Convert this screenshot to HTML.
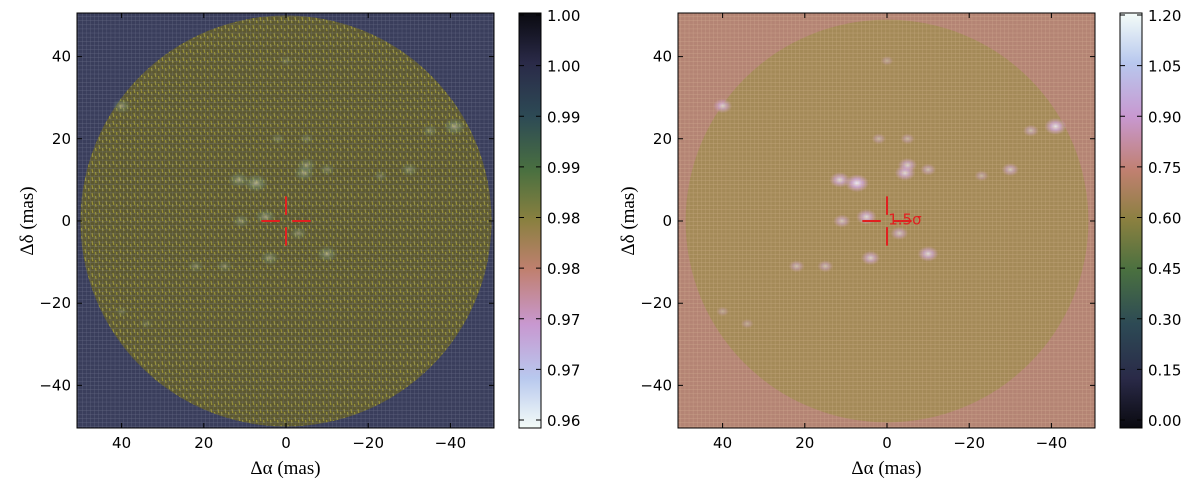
<!DOCTYPE html>
<html><head><meta charset="utf-8"><style>
body{margin:0;background:#fff;}
svg text{font-family:"DejaVu Sans","Liberation Sans",sans-serif;font-size:15px;fill:#000;}
.ser{font-family:"Liberation Serif","DejaVu Serif",serif;font-size:19px;}
</style></head><body>
<svg id="fig" width="1200" height="487" viewBox="0 0 1200 487" xmlns="http://www.w3.org/2000/svg">
<defs>
<pattern id="gridL" width="4.1" height="4.1" patternUnits="userSpaceOnUse"><path d="M0 0H4.1M0 0V4.1" stroke="#9aa0b8" stroke-width="0.6" opacity="0.45"/></pattern>
<pattern id="gridR" width="4.1" height="4.1" patternUnits="userSpaceOnUse"><path d="M0 0H4.1M0 0V4.1" stroke="#e8c8a8" stroke-width="0.6" opacity="0.5"/></pattern>
<pattern id="streak" width="7" height="8" patternUnits="userSpaceOnUse"><path d="M1 1L1.8 5M4.5 4L5 7" stroke="#c8c03a" stroke-width="1.2" opacity="0.55"/></pattern>
<linearGradient id="cbL" x1="0" y1="0" x2="0" y2="1">
<stop offset="0" stop-color="#0a0a10"/><stop offset="0.12" stop-color="#2a2a48"/><stop offset="0.25" stop-color="#2d4a55"/><stop offset="0.38" stop-color="#4a7040"/><stop offset="0.5" stop-color="#8a8040"/><stop offset="0.62" stop-color="#c08070"/><stop offset="0.75" stop-color="#c898d0"/><stop offset="0.88" stop-color="#b8c8ee"/><stop offset="1" stop-color="#f4fcf8"/></linearGradient>
<linearGradient id="cbR" x1="0" y1="1" x2="0" y2="0">
<stop offset="0" stop-color="#0a0a10"/><stop offset="0.12" stop-color="#2a2a48"/><stop offset="0.25" stop-color="#2d4a55"/><stop offset="0.38" stop-color="#4a7040"/><stop offset="0.5" stop-color="#8a8040"/><stop offset="0.62" stop-color="#c08070"/><stop offset="0.75" stop-color="#c898d0"/><stop offset="0.88" stop-color="#b8c8ee"/><stop offset="1" stop-color="#f4fcf8"/></linearGradient>
<radialGradient id="blobL"><stop offset="0" stop-color="#e8e0c0"/><stop offset="0.5" stop-color="#7a9a78" stop-opacity="0.7"/><stop offset="1" stop-color="#7a9a78" stop-opacity="0"/></radialGradient>
<radialGradient id="blobR"><stop offset="0" stop-color="#f4f8ff"/><stop offset="0.45" stop-color="#d0a8e0" stop-opacity="0.9"/><stop offset="1" stop-color="#d0a0d0" stop-opacity="0"/></radialGradient>
<clipPath id="clipL"><rect x="77" y="13" width="417" height="415"/></clipPath>
<clipPath id="clipR"><rect x="678" y="13" width="417" height="415"/></clipPath>
</defs>
<g id="panelL"></g>
<g id="panelR"></g>
</svg>
<script>
const NS='http://www.w3.org/2000/svg';
const xTicks=[40,20,0,-20,-40];
const yTicks=[40,20,0,-20,-40];
const cbLabelsL=['1.00','1.00','0.99','0.99','0.98','0.98','0.97','0.97','0.96'];
const cbLabelsR=['1.20','1.05','0.90','0.75','0.60','0.45','0.30','0.15','0.00'];
// spots: x (mas), y (mas), strength 0..1
const spotX=[7.3,11.5,-4.4,-5,5,11,4,-10,22,-10,-30,-23,-41,-35,40,2,-5,0,40,34,15,-3];
const spotY=[9.2,10,11.7,13.6,1,0,-9,-8,-11,12.5,12.5,11,23,22,28,20,20,39,-22,-25,-11,-3];
const spotV=[1,0.8,0.8,0.7,0.8,0.6,0.7,0.8,0.5,0.5,0.6,0.4,0.9,0.5,0.7,0.4,0.4,0.3,0.3,0.3,0.5,0.6];
const discRadiusL=50, discRadiusR=49;
function mk(parent,tag,attrs,name){const e=document.createElementNS(NS,tag);for(const k in attrs)e.setAttribute(k,attrs[k]);


parent.appendChild(e);return e;}
function panel(gid,x0,cx0,clip,cbx,opts){
  const g=document.getElementById(gid);const y0=13,w=417,h=415,s=4.11,cy=221;
  const X=v=>cx0-v*s, Y=v=>cy-v*s;
  const body=mk(g,'g',{'clip-path':'url(#'+clip+')'},'plot-area');
  mk(body,'rect',{x:x0,y:y0,width:w,height:h,fill:opts.bg},'background');
  mk(body,'circle',{cx:X(0),cy:Y(0),r:opts.r*s,fill:opts.disc},'disc');
  if(opts.streak)mk(body,'circle',{cx:X(0),cy:Y(0),r:opts.r*s,fill:'url(#streak)'},'disc-texture');
  for(let i=0;i<spotX.length;i++){
    mk(body,'ellipse',{cx:X(spotX[i]),cy:Y(spotY[i]),rx:4+8*spotV[i],ry:3+6*spotV[i],fill:opts.blob,opacity:opts.blobOp*spotV[i]+0.1},'peak');
  }
  mk(body,'rect',{x:x0,y:y0,width:w,height:h,fill:'url(#'+opts.grid+')'},'grid');
  const cc='#e02020';
  mk(body,'path',{d:`M${X(6)} ${Y(0)}H${X(1.5)}M${X(-1.5)} ${Y(0)}H${X(-6)}M${X(0)} ${Y(6)}V${Y(1.5)}M${X(0)} ${Y(-1.5)}V${Y(-6)}`,stroke:cc,'stroke-width':2,fill:'none'},'center-marker');
  if(opts.label){const t=mk(body,'text',{x:X(-0.3),y:Y(-0.8),style:'fill:#e02020;font-size:15px'},'sigma-label');t.textContent='1.5σ';}
  mk(g,'rect',{x:x0,y:y0,width:w,height:h,fill:'none',stroke:'#000','stroke-width':1},'plot-frame');
  xTicks.forEach(v=>{mk(g,'path',{d:`M${X(v)} ${y0}v5M${X(v)} ${y0+h}v-5`,stroke:'#000'},'x-tick');
    const t=mk(g,'text',{x:X(v),y:448,'text-anchor':'middle'},'x-tick-label');t.textContent=v<0?'−'+(-v):v;});
  yTicks.forEach(v=>{mk(g,'path',{d:`M${x0} ${Y(v)}h5M${x0+w} ${Y(v)}h-5`,stroke:'#000'},'y-tick');
    const t=mk(g,'text',{x:x0-6,y:Y(v)+5,'text-anchor':'end'},'y-tick-label');t.textContent=v<0?'−'+(-v):v;});
  const xl=mk(g,'text',{x:x0+w/2,y:474,'text-anchor':'middle',class:'ser'},'x-axis-title');xl.textContent='Δα (mas)';
  const yl=mk(g,'text',{x:0,y:0,'text-anchor':'middle',class:'ser',transform:`translate(${x0-44},${cy}) rotate(-90)`},'y-axis-title');yl.textContent='Δδ (mas)';
  const cb=mk(g,'g',{},'colorbar');
  mk(cb,'rect',{x:cbx,y:y0,width:22,height:h,fill:opts.cb,stroke:'#000'},'colorbar-fill');
  opts.cbl.forEach((l,i)=>{const yy=y0+2+i*(h-10)/8;
    mk(cb,'path',{d:`M${cbx} ${yy}h5M${cbx+22} ${yy}h-5`,stroke:'#000'},'colorbar-tick');
    const t=mk(cb,'text',{x:cbx+28,y:yy+6},'colorbar-label');t.textContent=l;});
}
panel('panelL',77,286,'clipL',519,{bg:'#3a3e5c',disc:'#5c5830',streak:true,blob:'url(#blobL)',blobOp:0.5,grid:'gridL',r:discRadiusL,cb:'url(#cbL)',cbl:cbLabelsL,label:false});
panel('panelR',678,887,'clipR',1120,{bg:'#b48474',disc:'#a48a58',streak:false,blob:'url(#blobR)',blobOp:0.8,grid:'gridR',r:discRadiusR,cb:'url(#cbR)',cbl:cbLabelsR,label:true});
</script>
</body></html>
